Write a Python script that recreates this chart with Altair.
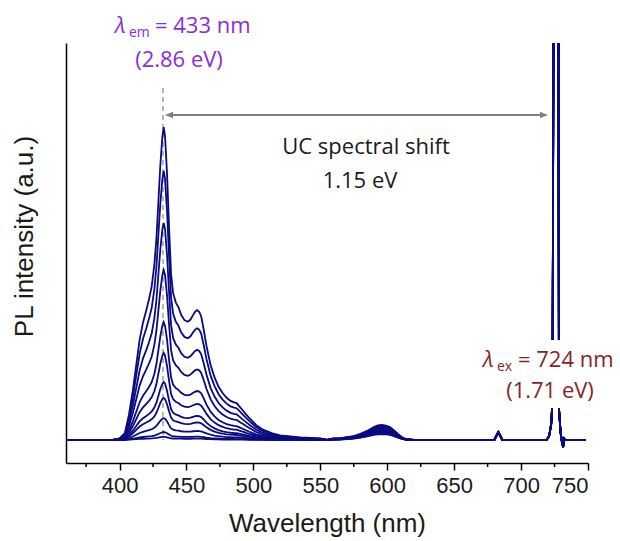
import altair as alt
import pandas as pd

# ---- data ----
# normalised shape of the up-converted emission band (1 at 433 nm), wavelength -> value
uc_shape = {
    395: 0, 400: 0.005, 404: 0.022, 407: 0.08, 410: 0.16, 412.5: 0.24, 415: 0.32,
    417.5: 0.375, 420: 0.415, 422: 0.45, 424: 0.49, 426: 0.56, 427.5: 0.64, 429: 0.76,
    430.5: 0.88, 432: 0.97, 433: 1.0, 434: 0.97, 435.5: 0.85, 437: 0.68, 438.5: 0.53,
    440: 0.47, 442: 0.44, 444: 0.425, 446: 0.40, 448.5: 0.383, 451: 0.378, 453: 0.385,
    455: 0.40, 456.5: 0.41, 458: 0.415, 459.5: 0.41, 461: 0.395, 463: 0.35, 465: 0.30,
    468: 0.24, 471: 0.20, 474: 0.17, 477: 0.15, 480: 0.135, 483: 0.125, 485.5: 0.12,
    487.5: 0.118, 490: 0.105, 492: 0.095, 494.5: 0.082, 497: 0.07, 502: 0.048,
    506: 0.036, 510: 0.028, 515: 0.02, 520: 0.015, 535: 0.008, 550: 0.005, 560: 0.003,
    565: 0.002, 570: 0.002, 575: 0,
}
# normalised shape of the weak band near 596 nm
band600_shape = {
    555: 0, 560: 0.05, 565: 0.08, 570: 0.15, 575: 0.25, 580: 0.4, 585: 0.6, 590: 0.85,
    593: 0.96, 596: 1.0, 599: 0.95, 602: 0.85, 605: 0.65, 608: 0.4, 611: 0.18,
    614: 0.05, 620: 0,
}
# 683 nm line and the (saturated) 724 nm excitation laser, in intensity units
fixed_lines = {
    680: 0, 683: 2.0, 686: 0,
    719: 0, 721: 1, 722.5: 4, 723.5: 10, 724.6: 160, 727.7: 160, 728.3: 8,
    729.5: 2, 730.5: -0.5, 731.4: -1.8, 732.3: 0.3, 733: 0,
}
baseline_points = [360, 380, 650, 700, 748]

# peak height of each spectrum at 433 nm and of its 596 nm band
uc_peak = [78.8, 67.8, 54.7, 42.8, 29.7, 21.9, 14.6, 10.6, 5.5, 2.0, 0.8]
band600_peak = [3.8, 3.5, 3.2, 3.0, 2.7, 2.5, 2.3, 2.1, 1.9, 1.7, 1.5]

x_ticks = [400, 450, 500, 550, 600, 650, 700, 750]
minor_ticks = [375, 425, 475, 525, 575, 625, 675, 725]

grid = sorted(set(baseline_points) | set(uc_shape) | set(band600_shape) | set(fixed_lines))
rows = []
for i, (a, b) in enumerate(zip(uc_peak, band600_peak)):
    for w in grid:
        v = a * uc_shape.get(w, 0) + b * band600_shape.get(w, 0) + fixed_lines.get(w, 0)
        rows.append({"curve": i, "wl": w, "pl": v})
df = pd.DataFrame(rows)

# ---- styling ----
LINE = "#0a0a82"
PURPLE = "#8A2BE2"
DRED = "#862424"
GRAY = "#808080"
TXT_FONT = "Open Sans"
AX_FONT = "Liberation Sans"

x_scale = alt.Scale(domain=[360, 750], nice=False, zero=False)
y_scale = alt.Scale(domain=[-5.8, 100], nice=False, zero=False)

x_axis = alt.Axis(values=x_ticks, title="Wavelength (nm)", grid=False,
                  labelFont=AX_FONT, labelFontSize=22, labelColor="#1a1a1a",
                  labelPadding=5, tickSize=7, tickWidth=1.5, tickColor="black",
                  domainColor="black", domainWidth=1.5,
                  titleFont=AX_FONT, titleFontSize=26, titleFontWeight="normal",
                  titleColor="#1a1a1a", titleBaseline="alphabetic", titleY=68)
y_axis = alt.Axis(title="PL intensity (a.u.)", ticks=False, labels=False, grid=False,
                  domainColor="black", domainWidth=1.5,
                  titleFont=AX_FONT, titleFontSize=26, titleFontWeight="normal",
                  titleColor="#1a1a1a", titleBaseline="alphabetic",
                  titleX=-34, titleY=193)

one = alt.Data(values=[{}])

curves = alt.Chart(df).mark_line(clip=True, color=LINE, strokeWidth=1.8).encode(
    x=alt.X("wl:Q", scale=x_scale, axis=x_axis),
    y=alt.Y("pl:Q", scale=y_scale, axis=y_axis),
    detail="curve:N",
)

minor = alt.Chart(pd.DataFrame({"wl": minor_ticks})).mark_rule(
    color="black", strokeWidth=1.5).encode(
    x=alt.X("wl:Q", scale=x_scale, axis=x_axis),
    y=alt.value(420), y2=alt.value(424),
)

dashed = alt.Chart(one).mark_rule(color="#a0a0a0", strokeWidth=1.5,
                                  strokeDash=[5, 4]).encode(
    x=alt.value(97), y=alt.value(45), y2=alt.value(397))

arrow_line = alt.Chart(one).mark_rule(color=GRAY, strokeWidth=2).encode(
    x=alt.value(104), x2=alt.value(478), y=alt.value(72))
head_left = alt.Chart(one).mark_point(shape="M0,0L2,-0.8L2,0.8Z", filled=True,
                                      color=GRAY, opacity=1, size=64).encode(
    x=alt.value(99), y=alt.value(72))
head_right = alt.Chart(one).mark_point(shape="M0,0L-2,-0.8L-2,0.8Z", filled=True,
                                       color=GRAY, opacity=1, size=64).encode(
    x=alt.value(482), y=alt.value(72))

white_box = alt.Chart(one).mark_rect(color="white").encode(
    x=alt.value(392), x2=alt.value(554), y=alt.value(297), y2=alt.value(365))


def txt(text, x, y, color, size=22, align="left", style="normal", font=TXT_FONT):
    return alt.Chart(one).mark_text(text=text, align=align, baseline="alphabetic",
                                    font=font, fontSize=size, fontStyle=style,
                                    color=color).encode(x=alt.value(x), y=alt.value(y))


texts = [
    txt("UC spectral shift", 300, 111, "#1a1a1a", align="center"),
    txt("1.15 eV", 294, 145, "#1a1a1a", align="center"),
    txt("λ", 49, -10, PURPLE, style="italic"),
    txt("em", 63, -6, PURPLE, size=14),
    txt("= 433 nm", 89, -10, PURPLE),
    txt("(2.86 eV)", 113, 24, PURPLE, align="center"),
    txt("λ", 417, 324, DRED, style="italic"),
    txt("ex", 431, 328, DRED, size=14),
    txt("= 724 nm", 452, 324, DRED),
    txt("(1.71 eV)", 484, 355, DRED, align="center"),
]

chart = alt.layer(dashed, curves, minor, white_box, arrow_line, head_left, head_right,
                  *texts).properties(
    width=522, height=420,
    padding={"left": 66, "top": 43, "right": 32, "bottom": 78},
    autosize=alt.AutoSizeParams(type="none"),
).configure_view(stroke=None)

chart.save("out.html", embed_options={"renderer": "svg", "actions": False})
